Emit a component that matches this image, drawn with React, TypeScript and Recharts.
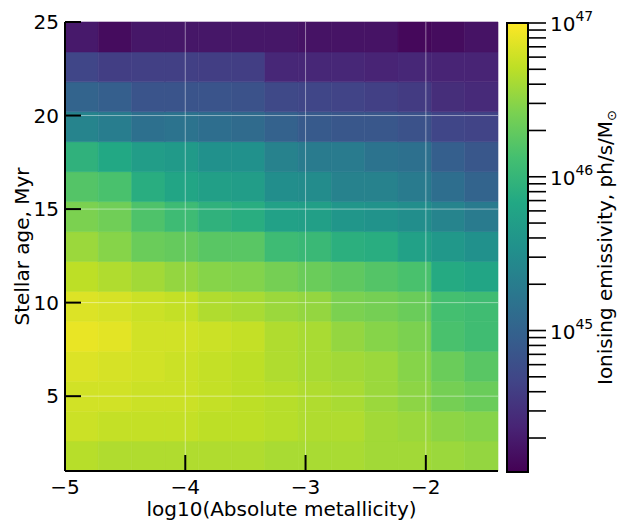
import React from 'react';
import { ComposedChart, XAxis, YAxis, ReferenceArea, ReferenceLine } from 'recharts';

// Column edges: log10(absolute metallicity)
const logZEdges = [-5, -4.723, -4.446, -4.169, -3.892, -3.615, -3.338, -3.062, -2.785, -2.508, -2.231, -1.954, -1.677, -1.4];
// Row edges: stellar age in Myr
const ageEdges = [1, 2.6, 4.2, 5.8, 7.4, 9, 10.6, 12.2, 13.8, 15.4, 17, 18.6, 20.2, 21.8, 23.4, 25];

// log10 ionising emissivity (ph/s/Msun), one array per age bin, columns = metallicity bins
const age01_0 = [46.68, 46.65, 46.65, 46.65, 46.65, 46.65, 46.62, 46.62, 46.62, 46.59, 46.59, 46.56, 46.53];
const age02_6 = [46.77, 46.74, 46.74, 46.74, 46.71, 46.71, 46.68, 46.65, 46.65, 46.59, 46.56, 46.5, 46.47];
const age04_2 = [46.8, 46.8, 46.77, 46.77, 46.74, 46.71, 46.68, 46.65, 46.62, 46.56, 46.5, 46.39, 46.33];
const age05_8 = [46.85, 46.82, 46.8, 46.77, 46.74, 46.71, 46.65, 46.62, 46.59, 46.56, 46.47, 46.33, 46.24];
const age07_4 = [46.91, 46.88, 46.8, 46.8, 46.77, 46.74, 46.65, 46.62, 46.53, 46.47, 46.42, 46.15, 46.09];
const age09_0 = [46.85, 46.82, 46.77, 46.74, 46.65, 46.62, 46.56, 46.53, 46.42, 46.39, 46.33, 46.12, 46.09];
const age10_6 = [46.71, 46.65, 46.59, 46.53, 46.47, 46.45, 46.39, 46.33, 46.27, 46.21, 46.15, 45.86, 45.8];
const age12_2 = [46.56, 46.47, 46.33, 46.3, 46.24, 46.24, 46.07, 46.04, 45.92, 45.89, 45.74, 45.63, 45.54];
const age13_8 = [46.42, 46.36, 46.18, 46.07, 45.95, 45.89, 45.74, 45.72, 45.6, 45.57, 45.51, 45.39, 45.28];
const age15_4 = [46.21, 46.15, 45.89, 45.8, 45.72, 45.69, 45.51, 45.48, 45.36, 45.36, 45.28, 45.13, 45.01];
const age17_0 = [45.95, 45.83, 45.69, 45.66, 45.54, 45.54, 45.36, 45.28, 45.28, 45.19, 45.16, 44.96, 44.87];
const age18_6 = [45.39, 45.31, 45.16, 45.19, 45.13, 45.1, 44.99, 44.9, 44.87, 44.87, 44.81, 44.69, 44.66];
const age20_2 = [45.01, 44.96, 44.84, 44.84, 44.84, 44.81, 44.72, 44.69, 44.66, 44.63, 44.58, 44.46, 44.43];
const age21_8 = [44.69, 44.61, 44.63, 44.63, 44.61, 44.61, 44.4, 44.4, 44.4, 44.37, 44.4, 44.37, 44.37];
const age23_4 = [44.28, 44.17, 44.26, 44.26, 44.26, 44.26, 44.26, 44.23, 44.23, 44.23, 44.14, 44.17, 44.23];

const emissivityRows = [
  age01_0, age02_6, age04_2, age05_8, age07_4, age09_0, age10_6, age12_2,
  age13_8, age15_4, age17_0, age18_6, age20_2, age21_8, age23_4,
];

const xTicks = [-5, -4, -3, -2];
const xTopTicks = [-4, -3, -2];
const yTicks = [5, 10, 15, 20, 25];
const yRightTicks = [5, 10, 15, 20];

// colorbar, in log10 units
const cbarLogMin = 44.08;
const cbarLogMax = 47;
const cbarMajorExp = [45, 46, 47];
const cbarTickMantissas = [1, 2, 3, 4, 5, 6, 7, 8, 9];

const VIRIDIS = ['#440154', '#482475', '#414487', '#355f8d', '#2a788e', '#21918c', '#22a884', '#44bf70', '#7ad151', '#bddf26', '#fde725'];

const cbarTicks: number[] = [];
[44, 45, 46].forEach((e) =>
  cbarTickMantissas.forEach((m) => {
    const lv = e + Math.log10(m);
    if (lv >= cbarLogMin - 1e-9 && lv <= cbarLogMax + 1e-9) cbarTicks.push(lv);
  })
);
cbarTicks.push(47);

function hexToRgb(h: string) {
  return [parseInt(h.slice(1, 3), 16), parseInt(h.slice(3, 5), 16), parseInt(h.slice(5, 7), 16)];
}
function viridis(t: number) {
  const tt = Math.max(0, Math.min(1, t));
  const s = tt * (VIRIDIS.length - 1);
  const i = Math.min(Math.floor(s), VIRIDIS.length - 2);
  const f = s - i;
  const a = hexToRgb(VIRIDIS[i]);
  const b = hexToRgb(VIRIDIS[i + 1]);
  const c = a.map((v, k) => Math.round(v + (b[k] - v) * f));
  return `rgb(${c[0]},${c[1]},${c[2]})`;
}
const colorFor = (lv: number) => viridis((lv - cbarLogMin) / (cbarLogMax - cbarLogMin));

const cells: { x1: number; x2: number; y1: number; y2: number; v: number }[] = [];
emissivityRows.forEach((row, r) =>
  row.forEach((v, c) =>
    cells.push({ x1: logZEdges[c], x2: logZEdges[c + 1], y1: ageEdges[r], y2: ageEdges[r + 1], v })
  )
);

// Layout (pixels)
const W = 619;
const H = 521;
const PLOT_L = 65;
const PLOT_R = 498;
const PLOT_T = 22;
const PLOT_B = 471;
const CBAR_L = 507;
const CBAR_W = 21;
const CBAR_TICK = 18;
// colorbar chart x units: 1 unit = colorbar width
const cbarXMax = (W - CBAR_L) / CBAR_W;
const cbarTickEnd = 1 + CBAR_TICK / CBAR_W;

const FONT = 'DejaVu Sans';
const FS = 20;
const fmt = (v: number) => (v < 0 ? '\u2212' + Math.abs(v) : String(v));
const TICK_LEN = 16;

const BottomTick = (p: any) => (
  <g>
    <line x1={p.x} y1={p.y} x2={p.x} y2={p.y - TICK_LEN} stroke="#000" strokeWidth={2} />
    <text x={p.x} y={p.y + 23} textAnchor="middle" fontSize={FS} fontFamily={FONT} fill="#000">
      {fmt(p.payload.value)}
    </text>
  </g>
);
const TopTick = (p: any) => (
  <line x1={p.x} y1={p.y} x2={p.x} y2={p.y + TICK_LEN} stroke="#000" strokeWidth={2} />
);
const LeftTick = (p: any) => (
  <g>
    <line x1={p.x} y1={p.y} x2={p.x + TICK_LEN} y2={p.y} stroke="#000" strokeWidth={2} />
    <text x={p.x - 6} y={p.y + 7} textAnchor="end" fontSize={FS} fontFamily={FONT} fill="#000">
      {fmt(p.payload.value)}
    </text>
  </g>
);
const RightTick = (p: any) => (
  <line x1={p.x} y1={p.y} x2={p.x - TICK_LEN} y2={p.y} stroke="#000" strokeWidth={2} />
);

const XLabel = () => (
  <text x={(PLOT_L + PLOT_R) / 2} y={516} textAnchor="middle" fontSize={FS} fontFamily={FONT} fill="#000">
    log10(Absolute metallicity)
  </text>
);
const YLabel = () => (
  <text x={29} y={246.5} transform="rotate(-90, 29, 246.5)" textAnchor="middle" fontSize={FS} fontFamily={FONT} fill="#000">
    Stellar age, Myr
  </text>
);
const cbarLabel = (props: any) => {
  const vb = props.viewBox || {};
  const cx = (vb.x || CBAR_L) + (vb.width || CBAR_W) + 84;
  const cy = (vb.y || PLOT_T) + (vb.height || PLOT_B - PLOT_T) / 2;
  return (
    <text x={cx} y={cy} transform={`rotate(-90, ${cx}, ${cy})`} textAnchor="middle" fontSize={FS} fontFamily={FONT} fill="#000">
      Ionising emissivity, ph/s/M
      <tspan dy={4} fontSize={13}>
        {'\u2299'}
      </tspan>
    </text>
  );
};

const makeExpLabel = (exp: number) => (props: any) => {
  const vb = props.viewBox || {};
  const x = (vb.x || 0) + (vb.width || 0) + 4;
  const y = (vb.y || 0) + 8;
  return (
    <text x={x} y={y} fontSize={FS} fontFamily={FONT} fill="#000">
      10
      <tspan dy={-10} fontSize={14}>
        {String(exp)}
      </tspan>
    </text>
  );
};

export default function App() {
  return (
    <div style={{ position: 'absolute', left: 0, top: 0, width: W, height: H, background: '#fff', fontFamily: FONT }}>
      <svg width={0} height={0} style={{ position: 'absolute' }}>
        <defs>
          <linearGradient id="viridisGrad" x1="0" y1="1" x2="0" y2="0">
            {VIRIDIS.map((c, i) => (
              <stop key={i} offset={`${(i / (VIRIDIS.length - 1)) * 100}%`} stopColor={c} />
            ))}
          </linearGradient>
        </defs>
      </svg>
      <div style={{ position: 'absolute', left: 0, top: 0 }}>
        <ComposedChart width={W} height={H} margin={{ top: PLOT_T, right: W - PLOT_R, bottom: 0, left: 0 }}>
          <XAxis
            xAxisId={0}
            type="number"
            dataKey="x"
            domain={[-5, -1.4]}
            allowDataOverflow
            ticks={xTicks}
            interval={0}
            height={H - PLOT_B}
            tickSize={0}
            tickMargin={0}
            tick={<BottomTick />}
            axisLine={{ stroke: '#000', strokeWidth: 2 }}
            label={<XLabel />}
          />
          <XAxis
            xAxisId="top"
            orientation="top"
            type="number"
            domain={[-5, -1.4]}
            allowDataOverflow
            ticks={xTopTicks}
            interval={0}
            height={0}
            tickSize={0}
            tickMargin={0}
            tick={<TopTick />}
            axisLine={{ stroke: '#000', strokeWidth: 2 }}
          />
          <YAxis
            yAxisId={0}
            type="number"
            dataKey="y"
            domain={[1, 25]}
            allowDataOverflow
            ticks={yTicks}
            interval={0}
            width={PLOT_L}
            tickSize={0}
            tickMargin={0}
            tick={<LeftTick />}
            axisLine={{ stroke: '#000', strokeWidth: 2 }}
            label={<YLabel />}
          />
          <YAxis
            yAxisId="right"
            orientation="right"
            type="number"
            domain={[1, 25]}
            allowDataOverflow
            ticks={yRightTicks}
            interval={0}
            width={0}
            tickSize={0}
            tickMargin={0}
            tick={<RightTick />}
            axisLine={{ stroke: '#000', strokeWidth: 2 }}
          />
          {cells.map((c, i) => (
            <ReferenceArea
              key={i}
              xAxisId={0}
              yAxisId={0}
              x1={c.x1}
              x2={c.x2}
              y1={c.y1}
              y2={c.y2}
              fill={colorFor(c.v)}
              fillOpacity={1}
              stroke={colorFor(c.v)}
              strokeWidth={0.6}
              ifOverflow="visible"
            />
          ))}
          {xTopTicks.map((t) => (
            <ReferenceLine key={'gx' + t} xAxisId={0} yAxisId={0} x={t} stroke="#ffffff" strokeOpacity={0.45} strokeWidth={1} />
          ))}
          {yRightTicks.map((t) => (
            <ReferenceLine key={'gy' + t} xAxisId={0} yAxisId={0} y={t} stroke="#ffffff" strokeOpacity={0.45} strokeWidth={1} />
          ))}
        </ComposedChart>
      </div>
      <div style={{ position: 'absolute', left: 0, top: 0 }}>
        <ComposedChart width={W} height={H} margin={{ top: 23, right: 0, bottom: H - 472, left: CBAR_L }}>
          <XAxis xAxisId={0} type="number" dataKey="x" domain={[0, cbarXMax]} allowDataOverflow height={0} tick={false} axisLine={false} tickLine={false} />
          <YAxis yAxisId={0} type="number" dataKey="y" domain={[cbarLogMin, cbarLogMax]} allowDataOverflow width={0} tick={false} axisLine={false} tickLine={false} />
          <ReferenceArea
            xAxisId={0}
            yAxisId={0}
            x1={0}
            x2={1}
            y1={cbarLogMin}
            y2={cbarLogMax}
            fill="url(#viridisGrad)"
            fillOpacity={1}
            stroke="#000"
            strokeWidth={2}
            ifOverflow="visible"
            label={cbarLabel}
          />
          {cbarTicks.map((v) => {
            const exp = Math.round(v);
            const isMajor = cbarMajorExp.indexOf(exp) >= 0 && Math.abs(v - exp) < 1e-6;
            return (
              <ReferenceLine
                key={'cb' + v}
                xAxisId={0}
                yAxisId={0}
                segment={[
                  { x: 1, y: v },
                  { x: cbarTickEnd, y: v },
                ]}
                stroke="#000"
                strokeWidth={1.6}
                ifOverflow="visible"
                label={isMajor ? makeExpLabel(exp) : undefined}
              />
            );
          })}
        </ComposedChart>
      </div>
    </div>
  );
}
